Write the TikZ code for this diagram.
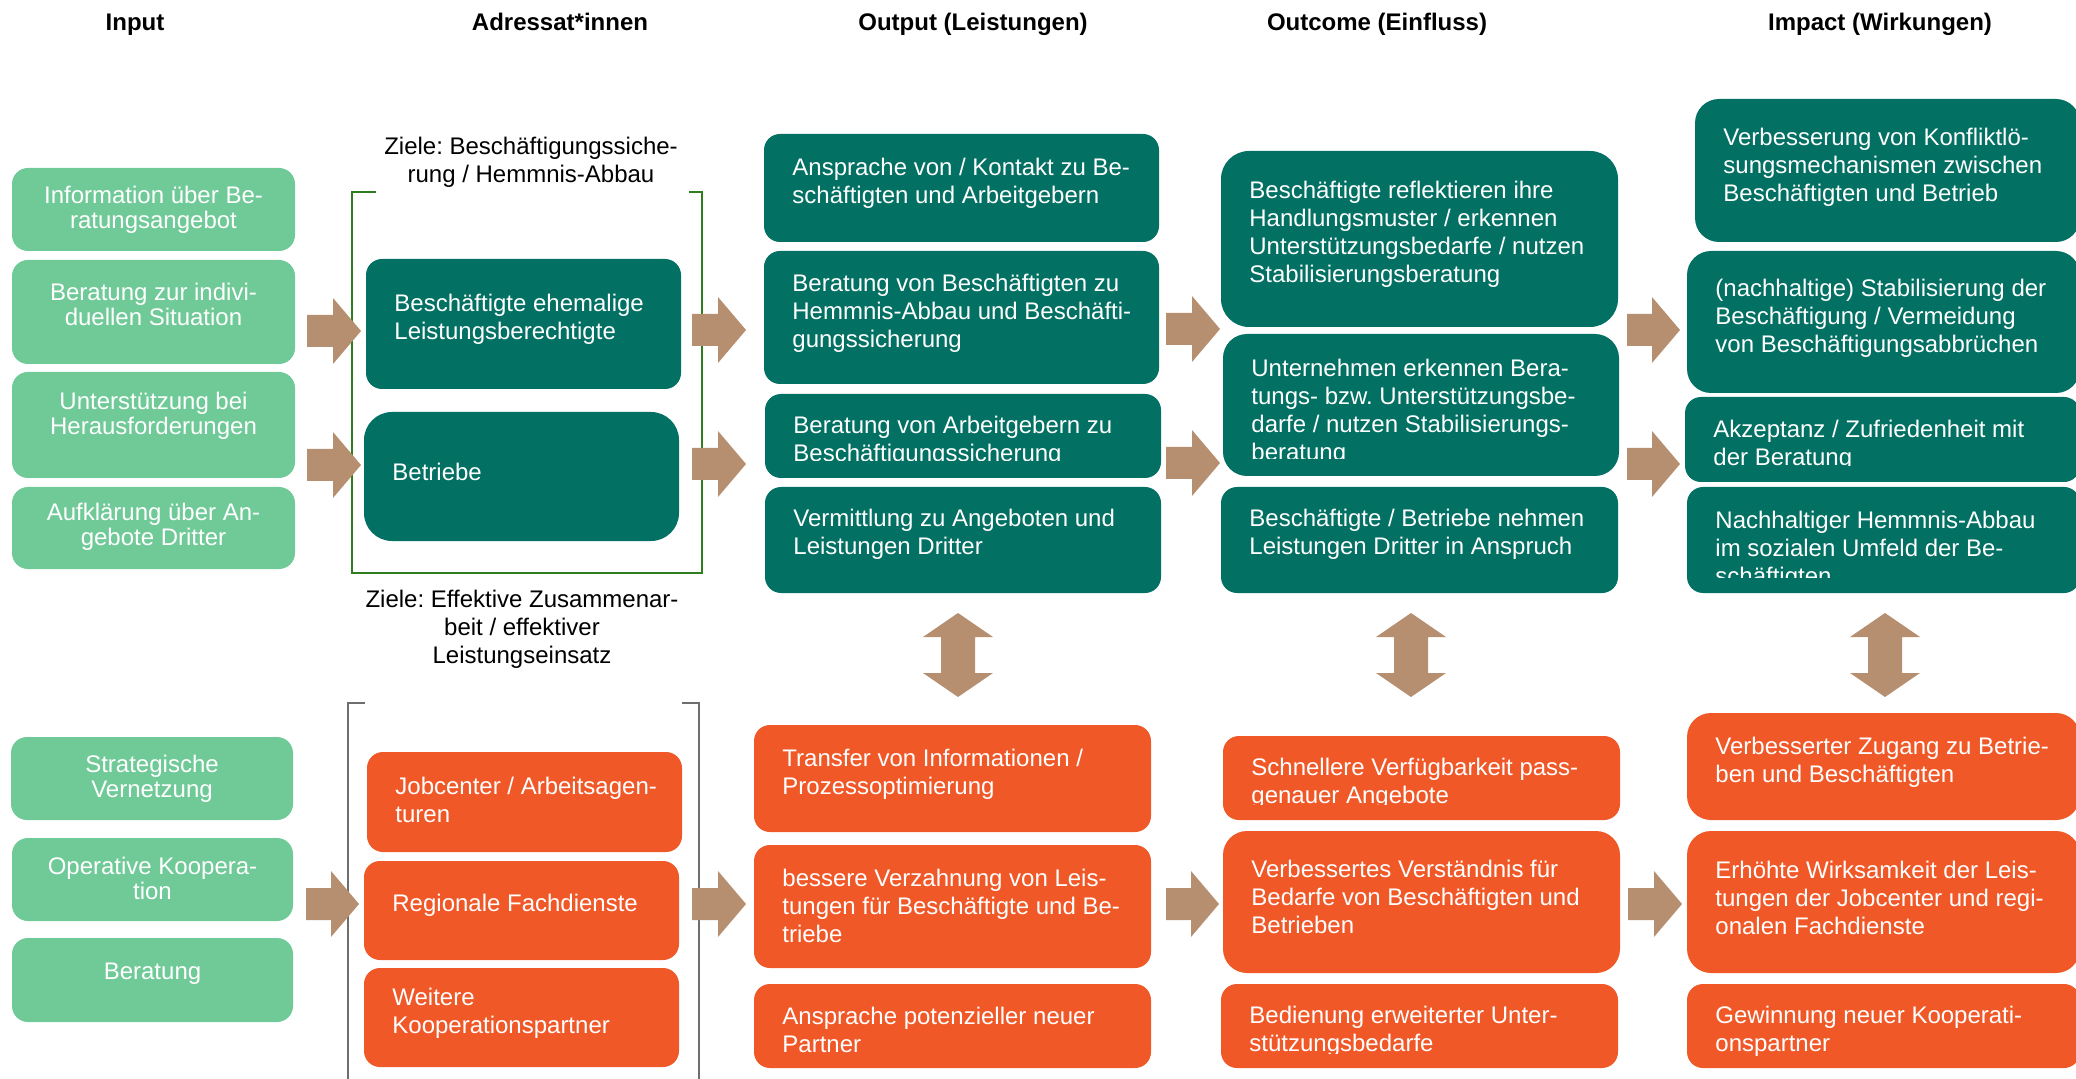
\documentclass[tikz,border=0pt]{standalone}
\usepackage{fontspec}
\setmainfont{Liberation Sans}
\frenchspacing
\usetikzlibrary{fit}
\definecolor{cGreen}{RGB}{111,202,152}
\definecolor{cTeal}{RGB}{2,112,98}
\definecolor{cOrange}{RGB}{240,88,40}
\definecolor{cTan}{RGB}{182,142,112}
\definecolor{cBrk}{RGB}{46,125,30}
\definecolor{cGrayB}{RGB}{110,110,110}
\tikzset{
  boxbase/.style={rectangle, rounded corners=8pt, inner sep=0pt},
  gbox/.style={boxbase, fill=cGreen},
  tbox/.style={boxbase, fill=cTeal},
  obox/.style={boxbase, fill=cOrange},
  boxtext/.style={inner sep=0pt, text=white},
  ltext/.style={boxtext, anchor=west, align=left, yshift=-1.25pt,
    font={\fontsize{12}{14}\selectfont}},
  ctext/.style={boxtext, anchor=center, align=center,
    font={\fontsize{12}{12.5}\selectfont}},
  head/.style={inner sep=0pt, anchor=base, font={\fontsize{12}{14}\selectfont\bfseries}},
  goal/.style={inner sep=0pt, align=center, yshift=-1pt, font={\fontsize{12}{14}\selectfont}},
  blockarrow/.style={fill=cTan},
}
% left-aligned box: style, name, x1, y1, x2, y2, text-y, clip-y, text
\newcommand\bxl[9]{%
  \path (#3,#4) coordinate (#2-nw) (#5,#6) coordinate (#2-se);
  \node[#1, fit=(#2-nw)(#2-se)] (#2) {};
  \begin{scope}
    \clip (#3,#4) rectangle (#5,#8);
    \node[ltext] (#2-t) at (#3+28,#7) {#9};
  \end{scope}}
% centred box: style, name, x1, y1, x2, y2, text-y, text
\newcommand\bxc[8]{%
  \path (#3,#4) coordinate (#2-nw) (#5,#6) coordinate (#2-se);
  \node[#1, fit=(#2-nw)(#2-se)] (#2) {};
  \node[ctext] (#2-t) at ({(#3+#5)/2},#7) {#8};}
% right block arrow: tail x, tip x, centre y
\newcommand\rarr[3]{%
  \fill[blockarrow] (#1,#3-16) -- (#2-28,#3-16) -- (#2-28,#3-33) -- (#2,#3)
    -- (#2-28,#3+33) -- (#2-28,#3+16) -- (#1,#3+16) -- cycle;}
% vertical double block arrow: centre x, top y, bottom y
\newcommand\vdarr[3]{%
  \fill[blockarrow] (#1,#2) -- (#1+35,#2+24) -- (#1+17,#2+24) -- (#1+17,#3-24)
    -- (#1+35,#3-24) -- (#1,#3) -- (#1-35,#3-24) -- (#1-17,#3-24)
    -- (#1-17,#2+24) -- (#1-35,#2+24) -- cycle;}
\begin{document}
\begin{tikzpicture}[x=0.5pt, y=-0.5pt]
\useasboundingbox (0,0) rectangle (2076,1079);
\clip (0,0) rectangle (2076,1079);

% headers
\node[head] (h1) at (135,30.5) {Input};
\node[head] (h2) at (560,30.5) {Adressat*innen};
\node[head] (h3) at (973,30.5) {Output (Leistungen)};
\node[head] (h4) at (1377,30.5) {Outcome (Einfluss)};
\node[head] (h5) at (1880,30.5) {Impact (Wirkungen)};

% input column
\bxc{gbox}{in1}{12}{168}{295}{251}{210}{Information über Be-\\ratungsangebot}
\bxc{gbox}{in2}{12}{260}{295}{364}{304}{Beratung zur indivi-\\duellen Situation}
\bxc{gbox}{in3}{12}{372}{295}{478}{416}{Unterstützung bei\\Herausforderungen}
\bxc{gbox}{in4}{12}{487}{295}{569}{527}{Aufklärung über An-\\gebote Dritter}
\bxc{gbox}{in5}{11}{737}{293}{820}{779}{Strategische\\Vernetzung}
\bxc{gbox}{in6}{12}{838}{293}{921}{878}{Operative Koopera-\\tion}
\bxc{gbox}{in7}{12}{938}{293}{1022}{974}{Beratung}

% addressees
\node[goal] (z1) at (531,160) {Ziele: Beschäftigungssiche-\\rung / Hemmnis-Abbau};
\draw[cBrk, line width=1.4pt] (376,192) -- (352,192) -- (352,573) -- (702,573) -- (702,192) -- (689,192);
\bxl{tbox}{a1}{366}{259}{681}{389}{317}{389}{Beschäftigte ehemalige\\Leistungsberechtigte}
\bxl{tbox,rounded corners=14pt}{a2}{364}{412}{679}{541}{469}{541}{Betriebe}
\node[goal] (z2) at (522,627) {Ziele: Effektive Zusammenar-\\beit / effektiver\\Leistungseinsatz};
\draw[cGrayB, line width=1.2pt] (365,703) -- (348,703) -- (348,1090);
\draw[cGrayB, line width=1.2pt] (682,703) -- (699,703) -- (699,1090);
\bxl{obox}{a3}{367}{752}{682}{852}{797}{852}{Jobcenter / Arbeitsagen-\\turen}
\bxl{obox}{a4}{364}{861}{679}{960}{903}{960}{Regionale Fachdienste}
\bxl{obox}{a5}{364}{968}{679}{1067}{1011}{1067}{Weitere\\Kooperationspartner}

% output
\bxl{tbox}{o1}{764}{134}{1159}{242}{181}{242}{Ansprache von / Kontakt zu Be-\\schäftigten und Arbeitgebern}
\bxl{tbox}{o2}{764}{251}{1159}{384}{311}{384}{Beratung von Beschäftigten zu\\Hemmnis-Abbau und Beschäfti-\\gungssicherung}
\bxl{tbox}{o3}{765}{394}{1161}{478}{439}{461}{Beratung von Arbeitgebern zu\\Beschäftigungssicherung}
\bxl{tbox}{o4}{765}{487}{1161}{593}{532}{593}{Vermittlung zu Angeboten und\\Leistungen Dritter}
\bxl{obox}{o5}{754}{725}{1151}{832}{772}{832}{Transfer von Informationen /\\Prozessoptimierung}
\bxl{obox}{o6}{754}{845}{1151}{968}{903}{968}{bessere Verzahnung von Leis-\\tungen für Beschäftigte und Be-\\triebe}
\bxl{obox}{o7}{754}{984}{1151}{1068}{1027}{1068}{Ansprache potenzieller neuer\\Partner}

% outcome
\bxl{tbox,rounded corners=14pt}{c1}{1221}{151}{1618}{327}{232}{327}{Beschäftigte reflektieren ihre\\Handlungsmuster / erkennen\\Unterstützungsbedarfe / nutzen\\Stabilisierungsberatung}
\bxl{tbox,rounded corners=12pt}{c2}{1223}{334}{1619}{476}{410}{459}{Unternehmen erkennen Bera-\\tungs- bzw. Unterstützungsbe-\\darfe / nutzen Stabilisierungs-\\beratung}
\bxl{tbox}{c3}{1221}{487}{1618}{593}{532}{593}{Beschäftigte / Betriebe nehmen\\Leistungen Dritter in Anspruch}
\bxl{obox}{c4}{1223}{736}{1620}{820}{781}{804}{Schnellere Verfügbarkeit pass-\\genauer Angebote}
\bxl{obox,rounded corners=12pt}{c5}{1223}{831}{1620}{973}{894}{973}{Verbessertes Verständnis für\\Bedarfe von Beschäftigten und\\Betrieben}
\bxl{obox}{c6}{1221}{984}{1618}{1068}{1029}{1053}{Bedienung erweiterter Unter-\\stützungsbedarfe}

% impact
\bxl{tbox,rounded corners=12pt}{i1}{1695}{99}{2080}{242}{165}{242}{Verbesserung von Konfliktlö-\\sungsmechanismen zwischen\\Beschäftigten und Betrieb}
\bxl{tbox,rounded corners=12pt}{i2}{1687}{251}{2080}{393}{316}{393}{(nachhaltige) Stabilisierung der\\Beschäftigung / Vermeidung\\von Beschäftigungsabbrüchen}
\bxl{tbox}{i3}{1685}{397}{2080}{482}{443}{466}{Akzeptanz / Zufriedenheit mit\\der Beratung}
\bxl{tbox}{i4}{1687}{487}{2080}{593}{548}{577}{Nachhaltiger Hemmnis-Abbau\\im sozialen Umfeld der Be-\\schäftigten}
\bxl{obox,rounded corners=12pt}{i5}{1687}{713}{2080}{820}{760}{820}{Verbesserter Zugang zu Betrie-\\ben und Beschäftigten}
\bxl{obox,rounded corners=12pt}{i6}{1687}{831}{2080}{973}{895}{973}{Erhöhte Wirksamkeit der Leis-\\tungen der Jobcenter und regi-\\onalen Fachdienste}
\bxl{obox}{i7}{1687}{984}{2080}{1068}{1029}{1068}{Gewinnung neuer Kooperati-\\onspartner}

% block arrows between columns
\rarr{307}{361}{331}
\rarr{307}{361}{465}
\rarr{306}{359}{904}
\rarr{692}{746}{330}
\rarr{692}{746}{464}
\rarr{692}{746}{904}
\rarr{1166}{1220}{329}
\rarr{1166}{1220}{463}
\rarr{1166}{1219}{904}
\rarr{1627}{1680}{330}
\rarr{1627}{1680}{464}
\rarr{1628}{1682}{904}

% vertical double arrows
\vdarr{958}{613}{697}
\vdarr{1411}{613}{697}
\vdarr{1885}{613}{697}
\end{tikzpicture}
\end{document}
